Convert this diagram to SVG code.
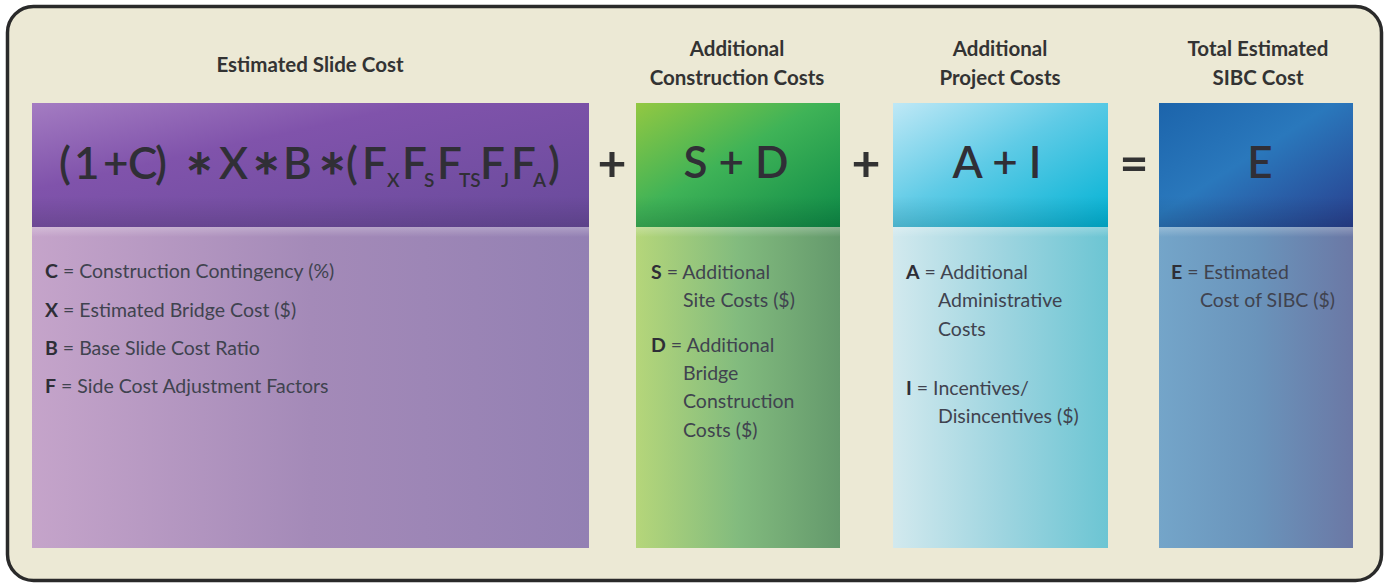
<svg xmlns="http://www.w3.org/2000/svg" width="1387" height="585" viewBox="0 0 1387 585">
  <style>
    .hdr { font-family: Lato, "Liberation Sans", sans-serif; font-weight: bold; font-size: 20.5px; fill: #333; text-anchor: middle; }
    .eq { font-family: Lato, "Liberation Sans", sans-serif; font-weight: 600; font-size: 44px; fill: #302f36; }
    .mid { text-anchor: middle; }
    .eq tspan.sub { font-size: 19px; }
    .eq tspan.ast { font-family: "DejaVu Sans", sans-serif; font-weight: normal; font-size: 34px; stroke: #302f36; stroke-width: 1.2px; }
    .op { font-family: Lato, "Liberation Sans", sans-serif; font-weight: bold; font-size: 50px; fill: #333; text-anchor: middle; }
    .def { font-family: Lato, "Liberation Sans", sans-serif; font-size: 19.5px; fill: #40434f; }
    .def tspan.k { font-weight: bold; fill: #2e2e36; }
  </style>
  <defs>
    <!-- header gradients: light top-left to dark bottom-right -->
    <linearGradient id="hPurple" x1="0" y1="0" x2="1" y2="1">
      <stop offset="0" stop-color="#a47cc2"/>
      <stop offset="0.35" stop-color="#8053ab"/>
      <stop offset="1" stop-color="#684a9b"/>
    </linearGradient>
    <linearGradient id="hGreen" x1="0" y1="0" x2="1" y2="1">
      <stop offset="0" stop-color="#93c842"/>
      <stop offset="0.45" stop-color="#3fb357"/>
      <stop offset="1" stop-color="#0d8a47"/>
    </linearGradient>
    <linearGradient id="hCyan" x1="0" y1="0" x2="1" y2="1">
      <stop offset="0" stop-color="#bfe8f6"/>
      <stop offset="0.45" stop-color="#5fcbe6"/>
      <stop offset="1" stop-color="#00b2d4"/>
    </linearGradient>
    <linearGradient id="hBlue" x1="0" y1="0" x2="1" y2="1">
      <stop offset="0" stop-color="#1c64ab"/>
      <stop offset="0.45" stop-color="#2a78bc"/>
      <stop offset="1" stop-color="#293f8e"/>
    </linearGradient>
    <!-- body gradients: horizontal fades -->
    <linearGradient id="bPurple" x1="0" y1="0" x2="1" y2="0">
      <stop offset="0" stop-color="#c5a4ca"/>
      <stop offset="0.5" stop-color="#a48ab8"/>
      <stop offset="1" stop-color="#9380b3"/>
    </linearGradient>
    <linearGradient id="bGreen" x1="0" y1="0" x2="1" y2="0">
      <stop offset="0" stop-color="#b5d67a"/>
      <stop offset="0.5" stop-color="#82bb7e"/>
      <stop offset="1" stop-color="#64996c"/>
    </linearGradient>
    <linearGradient id="bCyan" x1="0" y1="0" x2="1" y2="0">
      <stop offset="0" stop-color="#d2e9ee"/>
      <stop offset="0.5" stop-color="#9fd5e0"/>
      <stop offset="1" stop-color="#6cc5d3"/>
    </linearGradient>
    <linearGradient id="bBlue" x1="0" y1="0" x2="1" y2="0">
      <stop offset="0" stop-color="#74a5c9"/>
      <stop offset="0.5" stop-color="#6a94bb"/>
      <stop offset="1" stop-color="#6b78a5"/>
    </linearGradient>
    <!-- darkening toward the header's lower edge -->
    <linearGradient id="hShade" x1="0" y1="0" x2="0" y2="1">
      <stop offset="0" stop-color="#000" stop-opacity="0"/>
      <stop offset="0.75" stop-color="#000" stop-opacity="0"/>
      <stop offset="1" stop-color="#000" stop-opacity="0.12"/>
    </linearGradient>
    <!-- soft highlight just under the header -->
    <linearGradient id="sheen" x1="0" y1="0" x2="0" y2="1">
      <stop offset="0" stop-color="#fff" stop-opacity="0.25"/>
      <stop offset="1" stop-color="#fff" stop-opacity="0"/>
    </linearGradient>
  </defs>

  <!-- frame -->
  <rect x="0" y="0" width="1387" height="585" fill="#ffffff"/>
  <rect x="7.5" y="6.5" width="1374" height="574" rx="26" ry="26" fill="#ece9d5" stroke="#2a2a2a" stroke-width="3.5"/>

  <!-- column titles -->
  <g id="titles">
    <text class="hdr" x="310" y="72" font-size="21.5">Estimated Slide Cost</text>
    <text class="hdr" x="737" y="56">Additional</text>
    <text class="hdr" x="737" y="85">Construction Costs</text>
    <text class="hdr" x="1000" y="56">Additional</text>
    <text class="hdr" x="1000" y="85">Project Costs</text>
    <text class="hdr" x="1258" y="56">Total Estimated</text>
    <text class="hdr" x="1258" y="85">SIBC Cost</text>
  </g>

  <!-- slide cost column -->
  <g id="slide-cost">
    <rect x="32" y="227" width="557" height="321" fill="url(#bPurple)"/>
    <rect x="32" y="227" width="557" height="10" fill="url(#sheen)"/>
    <rect x="32" y="103" width="557" height="124" fill="url(#hPurple)"/>
    <rect x="32" y="103" width="557" height="124" fill="url(#hShade)"/>
    <text class="eq" y="179"><tspan x="59">(</tspan><tspan x="74">1</tspan><tspan x="103">+</tspan><tspan x="128">C</tspan><tspan x="155">)</tspan><tspan class="ast" x="185" y="174">∗</tspan><tspan x="219" y="179">X</tspan><tspan class="ast" x="252" y="174">∗</tspan><tspan x="283" y="179">B</tspan><tspan class="ast" x="318" y="174">∗</tspan><tspan x="346" y="179">(</tspan><tspan x="362">F</tspan><tspan class="sub" x="387" y="187">X</tspan><tspan x="402" y="179">F</tspan><tspan class="sub" x="424" y="187">S</tspan><tspan x="437" y="179">F</tspan><tspan class="sub" x="459" y="187">TS</tspan><tspan x="480" y="179">F</tspan><tspan class="sub" x="501" y="187">J</tspan><tspan x="511" y="179">F</tspan><tspan class="sub" x="533" y="187">A</tspan><tspan x="548" y="179">)</tspan></text>
    <text class="def" x="45" y="278"><tspan class="k">C</tspan> = Construction Contingency (%)</text>
    <text class="def" x="45" y="317"><tspan class="k">X</tspan> = Estimated Bridge Cost ($)</text>
    <text class="def" x="45" y="355"><tspan class="k">B</tspan> = Base Slide Cost Ratio</text>
    <text class="def" x="45" y="393"><tspan class="k">F</tspan> = Side Cost Adjustment Factors</text>
  </g>

  <!-- additional construction costs column -->
  <g id="construction-costs">
    <rect x="636" y="227" width="204" height="321" fill="url(#bGreen)"/>
    <rect x="636" y="227" width="204" height="10" fill="url(#sheen)"/>
    <rect x="636" y="103" width="204" height="124" fill="url(#hGreen)"/>
    <rect x="636" y="103" width="204" height="124" fill="url(#hShade)"/>
    <text class="eq mid" x="736" y="178">S + D</text>
    <text class="def" x="651" y="279"><tspan class="k">S</tspan> = Additional</text>
    <text class="def" x="683" y="307">Site Costs ($)</text>
    <text class="def" x="651" y="352"><tspan class="k">D</tspan> = Additional</text>
    <text class="def" x="683" y="380">Bridge</text>
    <text class="def" x="683" y="408">Construction</text>
    <text class="def" x="683" y="437">Costs ($)</text>
  </g>

  <!-- additional project costs column -->
  <g id="project-costs">
    <rect x="893" y="227" width="215" height="321" fill="url(#bCyan)"/>
    <rect x="893" y="227" width="215" height="10" fill="url(#sheen)"/>
    <rect x="893" y="103" width="215" height="124" fill="url(#hCyan)"/>
    <rect x="893" y="103" width="215" height="124" fill="url(#hShade)"/>
    <text class="eq mid" x="997" y="178">A + I</text>
    <text class="def" x="906" y="279"><tspan class="k">A</tspan> = Additional</text>
    <text class="def" x="938" y="307">Administrative</text>
    <text class="def" x="938" y="336">Costs</text>
    <text class="def" x="906" y="395"><tspan class="k">I</tspan>  = Incentives/</text>
    <text class="def" x="938" y="423">Disincentives ($)</text>
  </g>

  <!-- total column -->
  <g id="total-cost">
    <rect x="1159" y="227" width="194" height="321" fill="url(#bBlue)"/>
    <rect x="1159" y="227" width="194" height="10" fill="url(#sheen)"/>
    <rect x="1159" y="103" width="194" height="124" fill="url(#hBlue)"/>
    <rect x="1159" y="103" width="194" height="124" fill="url(#hShade)"/>
    <text class="eq mid" x="1260" y="178">E</text>
    <text class="def" x="1171" y="279"><tspan class="k">E</tspan> = Estimated</text>
    <text class="def" x="1200" y="307">Cost of SIBC ($)</text>
  </g>

  <!-- operators between columns -->
  <g id="operators">
    <text class="op" x="612" y="181">+</text>
    <text class="op" x="866" y="181">+</text>
    <text class="op" x="1134" y="181">=</text>
  </g>
</svg>
